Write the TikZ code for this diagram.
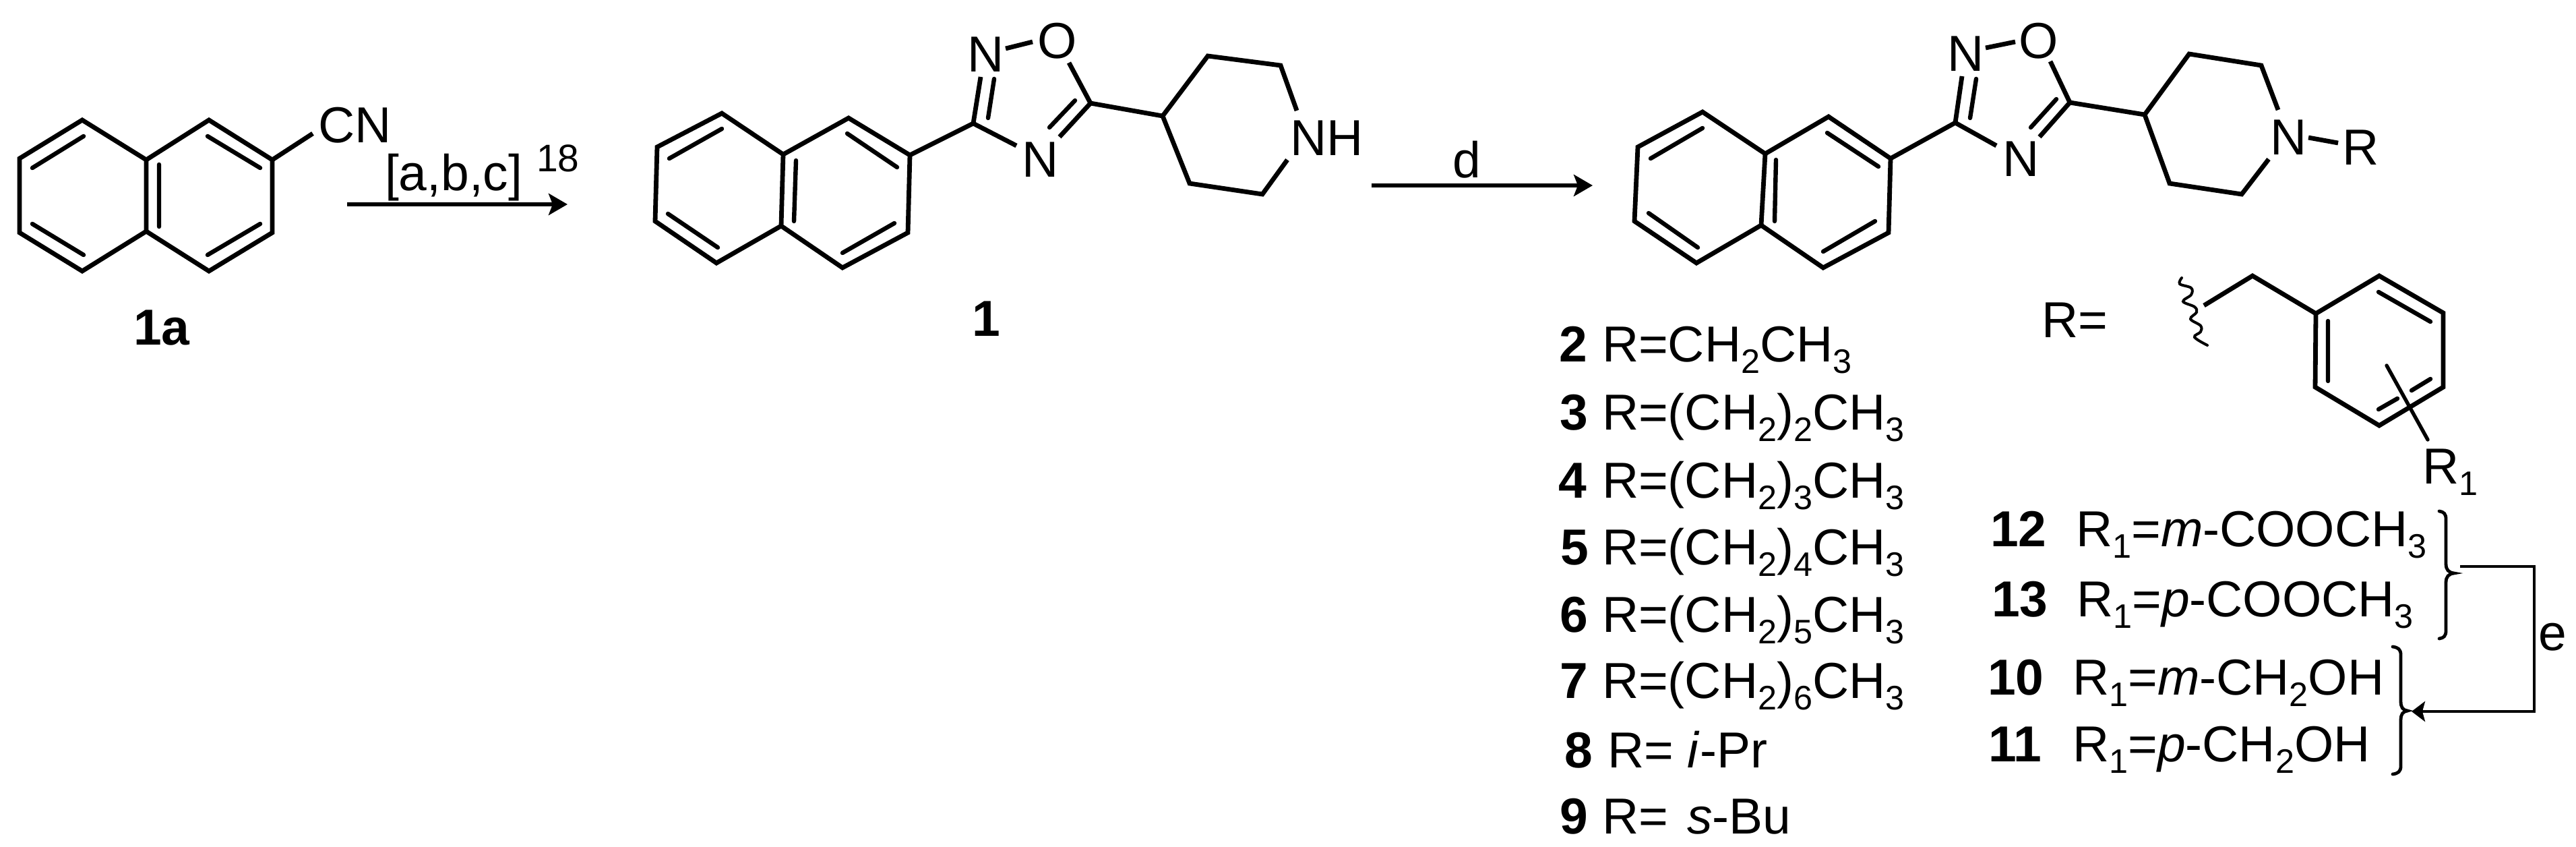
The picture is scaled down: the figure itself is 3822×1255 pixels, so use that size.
\documentclass[tikz,border=0pt]{standalone}
\usepackage{fontspec}
\setmainfont{Liberation Sans}
\usetikzlibrary{arrows.meta}
\newcommand{\lw}[1]{\raisebox{-4.4pt}{\fontsize{12.6}{13}\selectfont #1}}
\tikzset{
  bond/.style={line width=1.7pt,line join=miter,line cap=butt},
  thinbond/.style={line width=1.6pt,line cap=round},
  txt/.style={anchor=base west,inner sep=0pt,outer sep=0pt,font=\fontsize{18.75}{20}\selectfont},
  num/.style={txt,font=\fontsize{18.75}{20}\selectfont\bfseries},
  small/.style={txt,font=\fontsize{14.25}{15}\selectfont},
  rxn/.style={line width=1.65pt,-{Stealth[length=7pt,width=8pt,inset=1.5pt]}},
  link/.style={line width=1.2pt},
  brace/.style={line width=1.2pt,line cap=round}
}
\begin{document}
\begin{tikzpicture}[x=0.25pt,y=-0.25pt]
\useasboundingbox (0,0) rectangle (3822,1255);
\fill[white] (0,0) rectangle (3822,1255);
% ---------- 1a
\coordinate (a1) at (122,178); \coordinate (a2) at (29,235); \coordinate (a3) at (29,345);
\coordinate (a4) at (122,402); \coordinate (a5) at (217,343); \coordinate (a6) at (217,237);
\coordinate (a7) at (310,178); \coordinate (a8) at (404,237); \coordinate (a9) at (404,345);
\coordinate (a10) at (310,402); \coordinate (aCN) at (464,198);
\draw[bond] (a6)--(a1)--(a2)--(a3)--(a4)--(a5)--cycle;
\draw[bond] (a6)--(a7)--(a8)--(a9)--(a10)--(a5);
\draw[bond] (a8)--(aCN);
\draw[thinbond] (48,249)--(124,202) (48,332)--(124,378) (236,244)--(236,336) (308,202)--(386,249) (308,378)--(386,332);
\node[txt] (cn) at (472,211) {CN};
\node[txt] (abc) at (571,282) {[a,b,c]};
\node[small] (ref) at (796,254) {18};
\node[num] (l1a) at (198,511) {1a};
\coordinate (r1s) at (515,303); \coordinate (r1e) at (842,303);
\draw[rxn] (r1s)--(r1e);
% ---------- 1
\coordinate (b1) at (1071,168); \coordinate (b2) at (975,218); \coordinate (b3) at (972,328);
\coordinate (b4) at (1063,390); \coordinate (b5) at (1159,335); \coordinate (b6) at (1162,229);
\coordinate (b7) at (1259,175); \coordinate (b8) at (1350,230); \coordinate (b9) at (1347,345);
\coordinate (b10) at (1250,397);
\coordinate (bC3) at (1444,183); \coordinate (bC5) at (1618,153); \coordinate (bC4) at (1725,172);
\coordinate (bp1) at (1792,83); \coordinate (bp2) at (1900,97); \coordinate (bp3) at (1924,164);
\coordinate (bp4) at (1765,272); \coordinate (bp5) at (1873,288); \coordinate (bp6) at (1910,237);
\draw[bond] (b6)--(b1)--(b2)--(b3)--(b4)--(b5)--cycle;
\draw[bond] (b6)--(b7)--(b8)--(b9)--(b10)--(b5);
\draw[bond] (b8)--(bC3)--(1455,114);
\draw[bond] (bC3)--(1508,216);
\draw[bond] (1586,93)--(bC5)--(1572,203);
\draw[bond] (1492,72)--(1532,62);
\draw[bond] (bC5)--(bC4)--(bp1)--(bp2)--(bp3);
\draw[bond] (bC4)--(bp4)--(bp5)--(bp6);
\draw[thinbond] (993,235)--(1071,191) (991,317)--(1065,367) (1181,238)--(1178,328) (1257,198)--(1331,248) (1250,375)--(1327,331) (1466,175)--(1475,117) (1595,149)--(1557,189);
\node[txt] (bN1) at (1435,106) {N};
\node[txt] (bO) at (1539,86) {O};
\node[txt] (bN2) at (1516,262) {N};
\node[txt] (bNH) at (1914,230) {NH};
\node[num] (l1) at (1442,498) {1};
\coordinate (r2s) at (2035,275); \coordinate (r2e) at (2363,275);
\draw[rxn] (r2s)--(r2e);
\node[txt] (dl) at (2155,263) {d};
% ---------- product
\coordinate (c1) at (2526,166); \coordinate (c2) at (2430,218); \coordinate (c3) at (2425,328);
\coordinate (c4) at (2517,390); \coordinate (c5) at (2613,334); \coordinate (c6) at (2619,228);
\coordinate (c7) at (2713,173); \coordinate (c8) at (2805,235); \coordinate (c9) at (2802,345);
\coordinate (c10) at (2705,397);
\coordinate (cC3) at (2901,182); \coordinate (cC5) at (3071,152); \coordinate (cC4) at (3182,170);
\coordinate (cp1) at (3248,80); \coordinate (cp2) at (3355,97); \coordinate (cp3) at (3380,163);
\coordinate (cp4) at (3219,272); \coordinate (cp5) at (3326,288); \coordinate (cp6) at (3366,236);
\draw[bond] (c6)--(c1)--(c2)--(c3)--(c4)--(c5)--cycle;
\draw[bond] (c6)--(c7)--(c8)--(c9)--(c10)--(c5);
\draw[bond] (c8)--(cC3)--(2911,113);
\draw[bond] (cC3)--(2962,216);
\draw[bond] (3042,91)--(cC5)--(3026,203);
\draw[bond] (2946,71)--(2990,62);
\draw[bond] (cC5)--(cC4)--(cp1)--(cp2)--(cp3);
\draw[bond] (cC4)--(cp4)--(cp5)--(cp6);
\draw[bond] (3425,204)--(3469,212);
\draw[thinbond] (2449,235)--(2526,190) (2446,316)--(2519,367) (2635,237)--(2633,328) (2711,197)--(2787,247) (2705,373)--(2782,328) (2923,175)--(2932,117) (3051,147)--(3013,189);
\node[txt] (cN1) at (2889,105) {N};
\node[txt] (cO) at (2995,86) {O};
\node[txt] (cN2) at (2971,261) {N};
\node[txt] (cN3) at (3368,229) {N};
\node[txt] (cR) at (3475,244) {R};
% ---------- R group
\node[txt] (Req) at (3029,500) {R=};
\draw[line width=1pt,line cap=round] plot[smooth,tension=0.6] coordinates {(3237,412) (3234,421) (3251,427) (3251,437) (3239,447) (3256,455) (3259,463) (3250,473) (3265,483) (3265,492) (3256,500) (3275,512)};
\coordinate (d0) at (3270,453); \coordinate (d1) at (3342,409); \coordinate (d2) at (3436,465);
\coordinate (d3) at (3530,409); \coordinate (d4) at (3625,464); \coordinate (d5) at (3625,574);
\coordinate (d6) at (3530,631); \coordinate (d7) at (3435,574);
\draw[bond] (d0)--(d1)--(d2);
\draw[bond] (d2)--(d3)--(d4)--(d5)--(d6)--(d7)--cycle;
\draw[thinbond] (3529,433)--(3606,477) (3454,476)--(3454,565) (3529,607)--(3557,591) (3578,579)--(3606,562);
\coordinate (dsub) at (3602,652);
\draw[line width=1.35pt,line cap=round] (3541,542)--(dsub);
\node[txt] (dR1) at (3594,717) {R\lw{1}};
% ---------- list left
\node[num] (n2) at (2313,536) {2};  \node[txt] (t2) at (2377,536) {R=CH\lw{2}CH\lw{3}};
\node[num] (n3) at (2314,637) {3};  \node[txt] (t3) at (2377,637) {R=(CH\lw{2})\lw{2}CH\lw{3}};
\node[num] (n4) at (2312,738) {4};  \node[txt] (t4) at (2377,738) {R=(CH\lw{2})\lw{3}CH\lw{3}};
\node[num] (n5) at (2315,837) {5};  \node[txt] (t5) at (2377,837) {R=(CH\lw{2})\lw{4}CH\lw{3}};
\node[num] (n6) at (2314,937) {6};  \node[txt] (t6) at (2377,937) {R=(CH\lw{2})\lw{5}CH\lw{3}};
\node[num] (n7) at (2314,1035) {7}; \node[txt] (t7) at (2377,1035) {R=(CH\lw{2})\lw{6}CH\lw{3}};
\node[num] (n8) at (2321,1138) {8}; \node[txt] (t8) at (2385,1138) {R= \textit{i}-Pr};
\node[num] (n9) at (2314,1236) {9}; \node[txt] (t9) at (2377,1236) {R=\hspace{1.8pt} \textit{s}-Bu};
% ---------- list right
\node[num] (n12) at (2953,810) {12}; \node[txt] (t12) at (3080,810) {R\lw{1}=\textit{m}-COOCH\lw{3}};
\node[num] (n13) at (2955,914) {13}; \node[txt] (t13) at (3081,914) {R\lw{1}=\textit{p}-COOCH\lw{3}};
\node[num] (n10) at (2949,1030) {10}; \node[txt] (t10) at (3075,1030) {R\lw{1}=\textit{m}-CH\lw{2}OH};
\node[num] (n11) at (2950,1129) {11}; \node[txt] (t11) at (3075,1129) {R\lw{1}=\textit{p}-CH\lw{2}OH};
% ---------- braces and connector
\coordinate (tipA) at (3641,850); \coordinate (tipB) at (3572,1054);
\draw[brace] (3619,758) .. controls (3626,759) and (3629,762) .. (3629,770) -- (3629,836) .. controls (3629,845) and (3633,849) .. (tipA) .. controls (3633,851) and (3629,855) .. (3629,864) -- (3629,935) .. controls (3629,943) and (3626,946) .. (3619,947);
\draw[brace] (3550,959) .. controls (3558,960) and (3562,963) .. (3562,971) -- (3562,1040) .. controls (3562,1049) and (3565,1053) .. (tipB) .. controls (3565,1055) and (3562,1059) .. (3562,1068) -- (3562,1136) .. controls (3562,1144) and (3558,1147) .. (3550,1148);
\coordinate (ls) at (3650,840); \coordinate (lc1) at (3760,840); \coordinate (lc2) at (3760,1055); \coordinate (le) at (3578,1055);
\draw[link,-{Stealth[length=5pt,width=7.5pt,inset=1pt]}] (ls)--(lc1)--(lc2)--(le);
\node[txt] (el) at (3766,964) {e};
\end{tikzpicture}
\end{document}
